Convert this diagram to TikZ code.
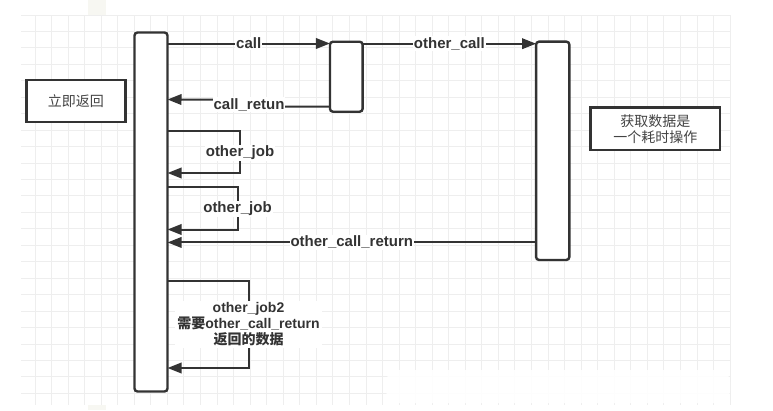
\documentclass[tikz,border=0pt]{standalone}
\usepackage{fontspec}
\setmainfont{Liberation Sans}
\newfontfamily\cjk{Noto Sans CJK SC}
\usetikzlibrary{arrows.meta}
\definecolor{ink}{HTML}{333333}
\definecolor{notetext}{HTML}{444444}
\definecolor{gridc}{HTML}{EEEEEE}
\definecolor{patch}{HTML}{F7F7F2}
\begin{document}
\begin{tikzpicture}[x=1pt,y=-1pt,
  life/.style={draw=ink, line width=2.4pt, rounded corners=3pt, fill=white, inner sep=0pt, outer sep=0pt},
  note/.style={draw=ink, line width=2.4pt, fill=white, text=notetext, inner sep=0pt, outer sep=0pt, align=center,
    font={\cjk\fontsize{14}{16}\selectfont}},
  conn/.style={draw=ink, line width=2pt, -{Triangle[length=14pt,width=10.5pt]}},
  lbl/.style={fill=white, inner sep=1pt, text=ink, font={\bfseries\fontsize{15}{17}\selectfont}}]
\useasboundingbox (0,0) rectangle (773,410);
\fill[white] (0,0) rectangle (773,410);
% background grid
\begin{scope}
  \clip (21,15) rectangle (731,405);
  \foreach \i in {0,...,42} \draw[gridc, line width=1pt] ({35+16.55*\i},15) -- ++(0,390);
  \foreach \j in {0,...,23} \draw[gridc, line width=1pt] (21,{15+16.45*\j}) -- ++(710,0);
\end{scope}
\fill[patch] (88,0) rectangle (106,15);
\fill[patch] (88,405) rectangle (106,410);
\fill[white, opacity=0.9, rounded corners=12pt] (386,370) rectangle (730,403);

% lifelines
\node[life, minimum width=33pt, minimum height=359pt] (A) at (151,212) {};
\node[life, minimum width=32.7pt, minimum height=70pt] (B) at (346.3,76.7) {};
\node[life, minimum width=33.3pt, minimum height=218.3pt] (C) at (552.7,150.8) {};

% notes
\node[note, minimum width=99pt, minimum height=42pt] (N1) at (75.8,101) {立即返回};
\node[note, minimum width=129.3pt, minimum height=42.3pt] (N2) at (655.3,128.8) {获取数据是\\一个耗时操作};

% messages
\draw[conn] ([yshift=-11pt]A.north east) -- ([yshift=-11pt]A.north east -| B.west)
  node[lbl, midway] {call};
\draw[conn] ([yshift=-2pt]B.north east) -- ([yshift=-2pt]B.north east -| C.west)
  node[lbl, midway] {other\_call};
\draw[conn] ([yshift=5pt]B.south west) -- ++(-81,0) -- ++(0,-7) -- ([yshift=-67pt]A.north east);
\node[lbl] (L1) at (249,104.5) {call\_retun};
\draw[conn] ([yshift=-98pt]A.north east) -- ++(72.5,0) |- ([yshift=-140.5pt]A.north east)
  node[lbl, pos=0.26] {other\_job};
\draw[conn] ([yshift=-154pt]A.north east) -- ++(70,0) |- ([yshift=-197pt]A.north east)
  node[lbl, pos=0.26] {other\_job};
\draw[conn] ([yshift=17.5pt]C.south west) -- ([yshift=17.5pt]C.south west -| A.east)
  node[lbl, midway] {other\_call\_return};
\draw[conn] ([yshift=-248.5pt]A.north east) -- ++(81,0) |- ([yshift=-335.5pt]A.north east)
  node[lbl, pos=0.25, align=center, inner sep=2pt, font={\bfseries\fontsize{14}{16}\selectfont}]
  {other\_job2\\{\cjk 需要}other\_call\_return\\{\cjk 返回的数据}};
\end{tikzpicture}
\end{document}
